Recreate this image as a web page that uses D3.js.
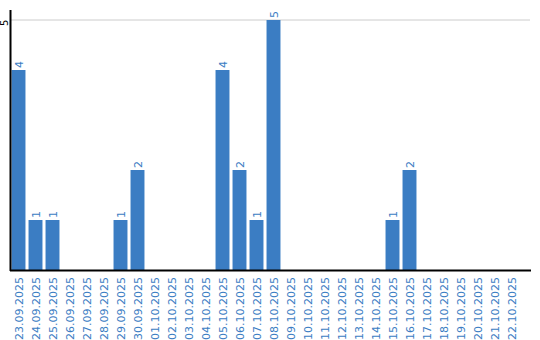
<!DOCTYPE html>
<html>
<head>
<meta charset="utf-8">
<script src="https://cdn.jsdelivr.net/npm/d3@7"></script>
<style>
  body { margin: 0; background: #fff; }
  svg { display: block; font-family: "DejaVu Sans", sans-serif; }
</style>
</head>
<body>
<div id="chart"></div>
<script>
const dates = ["23.09.2025","24.09.2025","25.09.2025","26.09.2025","27.09.2025","28.09.2025",
  "29.09.2025","30.09.2025","01.10.2025","02.10.2025","03.10.2025","04.10.2025","05.10.2025",
  "06.10.2025","07.10.2025","08.10.2025","09.10.2025","10.10.2025","11.10.2025","12.10.2025",
  "13.10.2025","14.10.2025","15.10.2025","16.10.2025","17.10.2025","18.10.2025","19.10.2025",
  "20.10.2025","21.10.2025","22.10.2025"];
const counts = [4,1,1,0,0,0,1,2,0,0,0,0,4,2,1,5,0,0,0,0,0,0,1,2,0,0,0,0,0,0];
const yTicks = [5];

const width = 540, height = 340;
const plotLeft = 10, plotRight = 531, plotTop = 20, plotBottom = 270;
const barColor = "#3b7dc3";

const svg = d3.select("#chart").append("svg")
    .attr("width", width)
    .attr("height", height);

const x = d3.scaleBand()
    .domain(dates)
    .range([plotLeft, 520])
    .paddingInner(0.18)
    .paddingOuter(0.09);

const y = d3.scaleLinear()
    .domain([0, 5])
    .range([plotBottom, plotTop]);

const barData = dates.map((d, i) => ({ date: d, v: counts[i] })).filter(d => d.v > 0);

// gridline
svg.append("g")
    .selectAll("line")
    .data(yTicks)
    .join("line")
    .attr("x1", plotLeft)
    .attr("x2", 530)
    .attr("y1", d => y(d))
    .attr("y2", d => y(d))
    .attr("stroke", "#cccccc")
    .attr("stroke-width", 1);

// bars
svg.append("g")
    .selectAll("rect")
    .data(barData)
    .join("rect")
    .attr("x", d => x(d.date))
    .attr("y", d => y(d.v))
    .attr("width", x.bandwidth())
    .attr("height", d => y(0) - y(d.v))
    .attr("fill", barColor);

// value labels
svg.append("g")
    .selectAll("text")
    .data(barData)
    .join("text")
    .attr("transform", d => `translate(${x(d.date) + x.bandwidth() / 2 + 4},${y(d.v) - 2}) rotate(-90)`)
    .attr("font-size", 11)
    .attr("fill", barColor)
    .text(d => d.v);

// y axis
svg.append("line")
    .attr("x1", plotLeft + 0.5).attr("x2", plotLeft + 0.5)
    .attr("y1", 10).attr("y2", plotBottom + 1)
    .attr("stroke", "#000").attr("stroke-width", 2);

svg.append("g")
    .selectAll("text")
    .data(yTicks)
    .join("text")
    .attr("transform", d => `translate(8,${y(d) + 6}) rotate(-90)`)
    .attr("font-size", 10)
    .attr("fill", "#000")
    .text(d => d);

// x axis baseline
svg.append("line")
    .attr("x1", plotLeft).attr("x2", plotRight)
    .attr("y1", plotBottom + 0.5).attr("y2", plotBottom + 0.5)
    .attr("stroke", "#000").attr("stroke-width", 2);

// x labels
svg.append("g")
    .selectAll("text")
    .data(dates)
    .join("text")
    .attr("transform", d => `translate(${x(d) + x.bandwidth() / 2 + 4},${plotBottom + 7}) rotate(-90)`)
    .attr("text-anchor", "end")
    .attr("font-size", 11)
    .attr("fill", barColor)
    .text(d => d);
</script>
</body>
</html>
